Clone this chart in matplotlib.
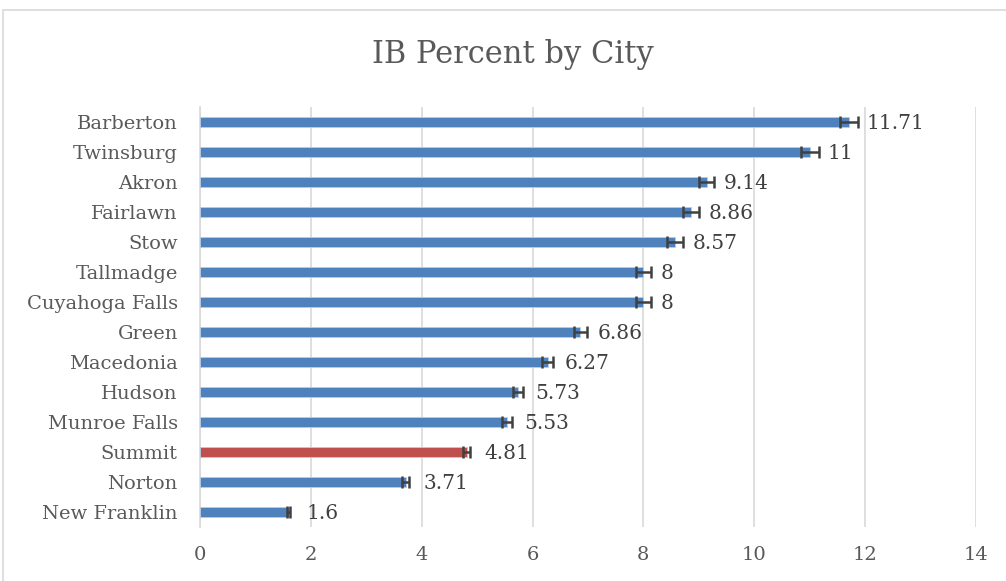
import numpy as np
import matplotlib
matplotlib.use('Agg')
import matplotlib.pyplot as plt
from matplotlib.patches import Rectangle

# data, top to bottom as in the chart
cities = ['Barberton', 'Twinsburg', 'Akron', 'Fairlawn', 'Stow', 'Tallmadge', 'Cuyahoga Falls',
          'Green', 'Macedonia', 'Hudson', 'Munroe Falls', 'Summit', 'Norton', 'New Franklin']
ib_pct = [11.71, 11, 9.14, 8.86, 8.57, 8, 8, 6.86, 6.27, 5.73, 5.53, 4.81, 3.71, 1.6]
err = [0.17, 0.16, 0.14, 0.14, 0.14, 0.13, 0.13, 0.12, 0.10, 0.09, 0.09, 0.07, 0.06, 0.03]
value_labels = ['11.71', '11', '9.14', '8.86', '8.57', '8', '8', '6.86', '6.27', '5.73', '5.53', '4.81', '3.71', '1.6']
highlight = 'Summit'
xticks = [0, 2, 4, 6, 8, 10, 12, 14]

blue = '#4F81BD'
red = '#C0504D'
grey_txt = '#595959'
grid_col = '#D9D9D9'

plt.rcParams['font.family'] = ['DejaVu Serif']

fig = plt.figure(figsize=(10.06, 5.81), dpi=100)
W, H = 1006, 581

# chart border (runs off the right and bottom edge like the screenshot)
fig.patches.append(Rectangle((3 / W, -0.5), 2.0, 1.5 - 10 / H, transform=fig.transFigure,
                             fill=False, edgecolor=grid_col, linewidth=1.2, zorder=0))

ax = fig.add_axes([200 / W, 1 - 527 / H, 776 / W, 420 / H])
ax.set_facecolor('none')

y = np.arange(len(cities))
colors = [red if c == highlight else blue for c in cities]
ax.barh(y, ib_pct, height=0.34, color=colors, edgecolor='#B8CCE4', linewidth=0.6, zorder=3)
ax.errorbar(ib_pct, y, xerr=err, fmt='none', ecolor='#404040', elinewidth=1.8,
            capsize=4.5, capthick=1.8, zorder=4)

for yi, v, lab in zip(y, ib_pct, value_labels):
    ax.annotate(lab, (v, yi), xytext=(12.5, -1), textcoords='offset points',
                va='center', ha='left', fontsize=14.5, color='#404040')

ax.set_xlim(0, 14)
ax.set_ylim(len(cities) - 0.5, -0.5)
ax.set_xticks(xticks)
ax.set_xticklabels([str(t) for t in xticks])
ax.set_yticks(y)
ax.set_yticklabels(cities)
ax.tick_params(axis='x', length=0, labelsize=14, labelcolor=grey_txt, pad=14)
ax.tick_params(axis='y', length=0, labelsize=14, labelcolor=grey_txt, pad=16)
ax.grid(axis='x', color=grid_col, linewidth=1.2, zorder=0)
for s in ['top', 'right', 'bottom']:
    ax.spines[s].set_visible(False)
ax.spines['left'].set_color(grid_col)
ax.spines['left'].set_linewidth(1.2)

fig.text(513 / W, 1 - 55 / H, 'IB Percent by City', ha='center', va='center',
         fontsize=22, color=grey_txt)

fig.savefig('out.png', dpi=100)
